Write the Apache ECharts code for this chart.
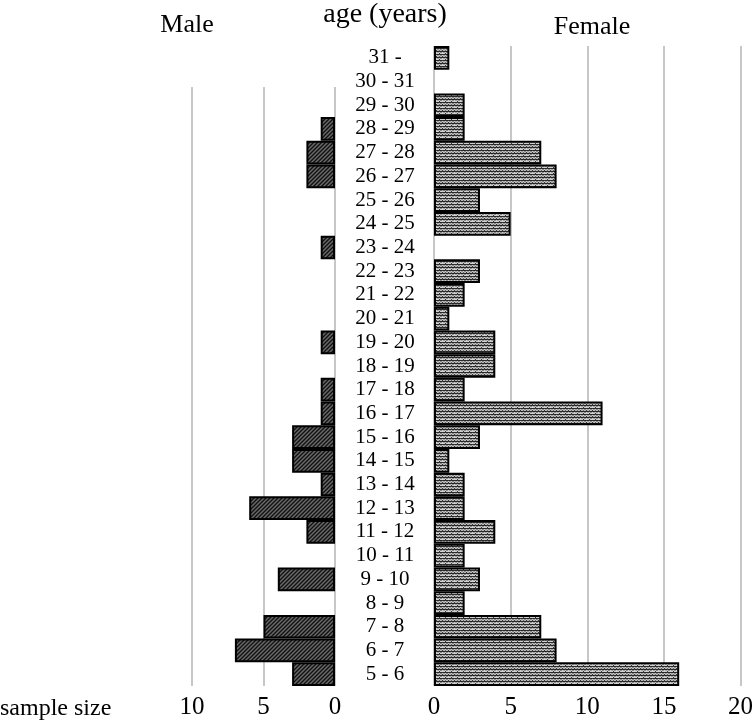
<!DOCTYPE html>
<html>
<head>
<meta charset="utf-8">
<script src="https://cdn.jsdelivr.net/npm/echarts@6/dist/echarts.min.js"></script>
<style>
html,body{margin:0;padding:0;background:#fff;}
#chart{width:756px;height:724px;}
</style>
</head>
<body>
<div id="chart"></div>
<script>
// Data (bottom to top)
const ageGroups = ['5 - 6','6 - 7','7 - 8','8 - 9','9 - 10','10 - 11','11 - 12','12 - 13','13 - 14','14 - 15','15 - 16','16 - 17','17 - 18','18 - 19','19 - 20','20 - 21','21 - 22','22 - 23','23 - 24','24 - 25','25 - 26','26 - 27','27 - 28','28 - 29','29 - 30','30 - 31','31 -'];
const maleCounts   = [3,7,5,0,4,0,2,6,1,3,3,1,1,0,1,0,0,0,1,0,0,2,2,1,0,0,0];
const femaleCounts = [16,8,7,2,3,2,4,2,2,1,3,11,2,4,4,1,2,3,0,5,3,8,7,2,2,0,1];
const maleTicks = [0,5,10];
const femaleTicks = [0,5,10,15,20];

const FONT = '"Liberation Serif", "Times New Roman", serif';

function malePattern(){
  const c = document.createElement('canvas');
  c.width = 4; c.height = 4;
  const g = c.getContext('2d');
  g.fillStyle = '#6a6a6a'; g.fillRect(0,0,4,4);
  g.strokeStyle = '#111'; g.lineWidth = 1.4;
  g.beginPath();
  g.moveTo(-1,5); g.lineTo(5,-1);
  g.moveTo(-1,1); g.lineTo(1,-1);
  g.moveTo(3,5); g.lineTo(5,3);
  g.stroke();
  return c;
}
function femalePattern(){
  const c = document.createElement('canvas');
  c.width = 6; c.height = 6;
  const g = c.getContext('2d');
  g.fillStyle = '#cfcfcf'; g.fillRect(0,0,6,6);
  g.strokeStyle = '#1e1e1e'; g.lineWidth = 1.1;
  g.beginPath();
  g.moveTo(0,1); g.lineTo(1.5,0); g.lineTo(3,1); g.lineTo(4.5,0); g.lineTo(6,1);
  g.moveTo(0,4); g.lineTo(1.5,3); g.lineTo(3,4); g.lineTo(4.5,3); g.lineTo(6,4);
  g.stroke();
  g.fillStyle = '#333';
  g.fillRect(1,5,1,1); g.fillRect(4,2,1,1);
  return c;
}

const chart = echarts.init(document.getElementById('chart'));
const gridLine = {show:true, lineStyle:{color:'#b4b4b4', width:1.5}};

chart.setOption({
  animation:false,
  backgroundColor:'#fff',
  grid:[
    {left:192, right:421, top:46, bottom:38},
    {left:434, right:15, top:46, bottom:38},
    {left:192, right:421, top:87, bottom:38}
  ],
  xAxis:[
    {type:'value', gridIndex:0, min:0, max:10, interval:5, inverse:true,
     axisLine:{show:false}, axisTick:{show:false}, splitLine:{show:false},
     axisLabel:{fontFamily:FONT, fontSize:25, color:'#000', margin:9,
       formatter:v=> maleTicks.includes(v) ? String(v) : ''}},
    {type:'value', gridIndex:1, min:0, max:20, interval:5,
     axisLine:{show:false}, axisTick:{show:false}, splitLine:gridLine,
     axisLabel:{fontFamily:FONT, fontSize:25, color:'#000', margin:9,
       formatter:v=> femaleTicks.includes(v) ? String(v) : ''}},
    {type:'value', gridIndex:2, min:0, max:10, interval:5, inverse:true,
     axisLine:{show:false}, axisTick:{show:false}, axisLabel:{show:false},
     splitLine:gridLine}
  ],
  yAxis:[
    {type:'category', gridIndex:0, data:ageGroups, axisLine:{show:false},
     axisTick:{show:false}, axisLabel:{show:false}},
    {type:'category', gridIndex:1, data:ageGroups, axisLine:{show:false},
     axisTick:{show:false},
     axisLabel:{show:true, interval:0, fontFamily:FONT, fontSize:21, color:'#000', align:'center', margin:49}},
    {type:'value', gridIndex:2, min:0, max:1, show:false}
  ],
  series:[
    {type:'bar', name:'Male', xAxisIndex:0, yAxisIndex:0, barWidth:'100%',
     data: maleCounts.map(v=> v===0 ? '-' : v),
     itemStyle:{color:{image:malePattern(), repeat:'repeat'}, borderColor:'#000', borderWidth:2}},
    {type:'bar', name:'Female', xAxisIndex:1, yAxisIndex:1, barWidth:'100%',
     data: femaleCounts.map(v=> v===0 ? '-' : v),
     itemStyle:{color:{image:femalePattern(), repeat:'repeat'}, borderColor:'#000', borderWidth:2}}
  ],
  graphic:[
    {type:'text', x:187, y:25, style:{text:'Male', font:'26px '+FONT, fill:'#000', textAlign:'center', textVerticalAlign:'middle'}},
    {type:'text', x:385, y:15, style:{text:'age (years)', font:'28px '+FONT, fill:'#000', textAlign:'center', textVerticalAlign:'middle'}},
    {type:'text', x:592, y:27, style:{text:'Female', font:'26px '+FONT, fill:'#000', textAlign:'center', textVerticalAlign:'middle'}},
    {type:'text', x:0, y:709, style:{text:'sample size', font:'24px '+FONT, fill:'#000', textAlign:'left', textVerticalAlign:'middle'}}
  ]
});
</script>
</body>
</html>
